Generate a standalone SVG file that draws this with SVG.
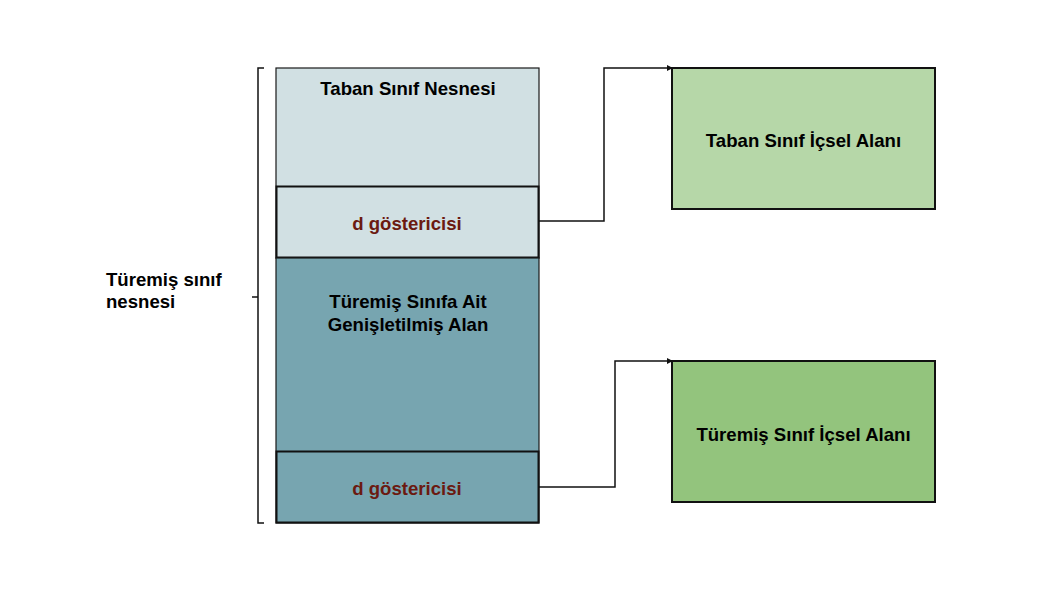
<svg xmlns="http://www.w3.org/2000/svg" width="1037" height="593" viewBox="0 0 1037 593">
<style>
text{font-family:"Liberation Sans",Arial,sans-serif;font-weight:bold;font-size:18.6px;fill:#000}
.c{text-anchor:middle}
.ptr{fill:#6b1a10}
.thin{stroke:#1a1a1a;stroke-width:1.2}
.thick{stroke:#111;stroke-width:2}
.conn{fill:none;stroke:#111;stroke-width:1.5}
</style>
<defs>
<marker id="ah" markerWidth="6" markerHeight="6" refX="5" refY="3" orient="auto" markerUnits="userSpaceOnUse">
<path d="M0,0 L6,3 L0,6 z" fill="#111"/>
</marker>
</defs>
<rect width="1037" height="593" fill="#fff"/>
<g id="bracket">
<path d="M264,68 H258 V523 H264 M258,297 H252" fill="none" stroke="#111" stroke-width="1.5"/>
<text x="106" y="286">Türemiş sınıf</text>
<text x="106" y="308">nesnesi</text>
</g>
<g id="base-object">
<rect x="276" y="68" width="263" height="190" fill="#d1e0e3" class="thin"/>
<text class="c" x="408" y="95">Taban Sınıf Nesnesi</text>
</g>
<g id="base-pointer">
<rect x="276.5" y="186.5" width="262" height="71" fill="#d1e0e3" class="thick"/>
<text class="c ptr" x="407" y="230">d göstericisi</text>
</g>
<g id="derived-area">
<rect x="276" y="258" width="263" height="265" fill="#77a5b0" class="thin"/>
<text class="c" x="408" y="308">Türemiş Sınıfa Ait</text>
<text class="c" x="408" y="331">Genişletilmiş Alan</text>
</g>
<g id="derived-pointer">
<rect x="276.5" y="451.5" width="262" height="71" fill="#77a5b0" class="thick"/>
<text class="c ptr" x="407" y="495">d göstericisi</text>
</g>
<g id="base-internal">
<rect x="672" y="68" width="263" height="141" fill="#b6d7a8" class="thick" stroke-width="1.5"/>
<text class="c" x="803.5" y="147">Taban Sınıf İçsel Alanı</text>
</g>
<g id="derived-internal">
<rect x="672" y="361" width="263" height="141" fill="#93c47d" class="thick" stroke-width="1.5"/>
<text class="c" x="803.5" y="441">Türemiş Sınıf İçsel Alanı</text>
</g>
<g id="connectors">
<path class="conn" d="M539,221 H604 V68 H672" marker-end="url(#ah)"/>
<path class="conn" d="M539,487 H615 V361 H672" marker-end="url(#ah)"/>
</g>
</svg>
